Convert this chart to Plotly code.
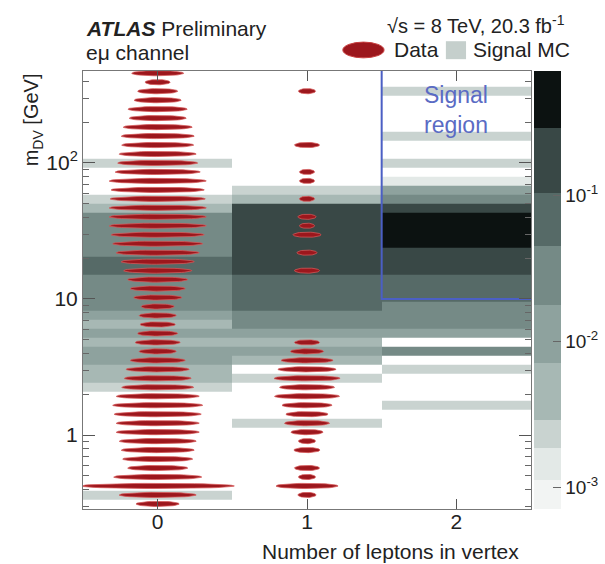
import numpy as np
import plotly.graph_objects as go

# ---------------- data (bins listed from highest m_DV to lowest) ----------------
MDV_MIN, MDV_MAX, NBINS = 0.2888, 492.7, 49
n_leptons = [0, 1, 2]

# Signal MC fraction per m_DV bin (None = empty)
signal_mc_0 = [None]*10 + [0.0023] + [None]*3 + [0.0023, 0.0045] + [0.028]*5 + [0.068]*2 + \
    [0.028]*4 + [0.011, 0.0045, 0.011, 0.0045, 0.011, 0.011, 0.0045, 0.0045, 0.0023] + \
    [None]*11 + [0.0023, None]
signal_mc_1 = [None]*13 + [0.0023, 0.0045, 0.2] + [0.16]*7 + [0.07]*4 + \
    [0.03, 0.025, 0.012, 0.005, 0.011, 0.0048, None, 0.0023] + [None]*4 + [0.0023] + [None]*9
signal_mc_2 = [None, None, 0.0023] + [None]*4 + [0.0023, None, None, 0.0023, None, 0.0014,
    0.011, 0.03, 0.18, 0.45, 0.5, 0.5, 0.4] + [0.17]*3 + [0.065]*3 + [0.03]*3 + \
    [0.012, None, 0.025, None, 0.0023, None, None, None, 0.0023] + [None]*11

# Data: relative number of events per bin (ellipse width)
data_0 = [52, 25, 40, 47, 59, 57, 69, 73, 72, 77, 80, 85, 97, 93, 95, 97, 97, 97, 93, 90,
          83, 73, 68, 60, 55, 48, 33, 37, 35, 40, 45, 37, 55, 63, 67, 72, 83, 90, 87, 83,
          83, 77, 73, 70, 60, 88, 153, 77, 43]
data_1 = [0, 0, 17, 0, 0, 0, 0, 0, 25, 0, 0, 15, 15, 0, 15, 0, 18, 15, 28, 0,
          20, 0, 25, 0, 0, 0, 0, 0, 0, 0, 25, 33, 52, 58, 66, 55, 65, 50, 42, 45,
          32, 17, 26, 0, 25, 17, 62, 18, 0]

# colour levels of the (stepped) palette, in log10(signal fraction)
level_edges = [-3.15, -2.95, -2.73, -2.54, -2.15, -1.75, -1.35, -0.986, -0.54, -0.15]
level_colors = ["#f2f4f3", "#e3e9e7", "#c9d3d0", "#a7b8b4", "#8ea29e", "#758a86",
                "#566a67", "#394846", "#0c1211"]

FONT = "Liberation Sans, Arial, sans-serif"

# ---------------- derived ----------------
edges = np.logspace(np.log10(MDV_MAX), np.log10(MDV_MIN), NBINS + 1)  # descending
log_centres = 0.5 * (np.log10(edges[:-1]) + np.log10(edges[1:]))

def tolog(a):
    return [np.nan if v is None else np.log10(v) for v in a]

zmat = np.array([tolog(signal_mc_0), tolog(signal_mc_1), tolog(signal_mc_2)]).T  # rows = bins
zmat = zmat[::-1]
y_edges = edges[::-1]

zmin, zmax = level_edges[0], level_edges[-1]
cs = []
for i, col in enumerate(level_colors):
    a = (level_edges[i] - zmin) / (zmax - zmin)
    b = (level_edges[i + 1] - zmin) / (zmax - zmin)
    cs.append([a, col])
    cs.append([b, col])
cs[0][0] = 0.0
cs[-1][0] = 1.0

W, H = 605, 564
ML, MR, MT, MB = 83, 74, 71, 55

fig = go.Figure()
fig.add_trace(go.Heatmap(
    x=n_leptons, y=y_edges, z=zmat, zmin=zmin, zmax=zmax, colorscale=cs,
    hoverongaps=False, showscale=True,
    colorbar=dict(xref="container", x=534 / W, xanchor="left", xpad=0,
                  yref="paper", y=0.5, yanchor="middle", len=1.0, lenmode="fraction", ypad=0,
                  thickness=27, outlinewidth=0, tickmode="array", tickvals=[-1, -2, -3],
                  ticktext=["10<sup>-1</sup>", "10<sup>-2</sup>", "10<sup>-3</sup>"],
                  ticks="inside", ticklen=8, tickcolor="#666",
                  tickfont=dict(family=FONT, size=19, color="#222")),
))

# data ellipses
HALF_H = 0.019
t = np.linspace(0, 2 * np.pi, 48)
for xc, counts in ((0, data_0), (1, data_1)):
    xs, ys = [], []
    for lc, n in zip(log_centres, counts):
        if n <= 0:
            continue
        hw = n / 298.0
        xs += list(xc + hw * np.cos(t)) + [None]
        ys += list(10 ** (lc + HALF_H * np.sin(t))) + [None]
    fig.add_trace(go.Scatter(x=xs, y=ys, mode="lines", fill="toself",
                             fillcolor="#9c171d", line=dict(color="rgba(215,90,90,0.75)", width=1),
                             hoverinfo="skip", showlegend=False))

# signal region boundary
y_top = 10 ** 2.676
fig.add_trace(go.Scatter(x=[1.5, 1.5, 2.5], y=[y_top, 10, 10], mode="lines",
                         line=dict(color="#4b5fc4", width=2), hoverinfo="skip",
                         showlegend=False, cliponaxis=False))

minor_y = [k * 10.0**e for e in (-1, 0, 1, 2) for k in range(2, 10)]
minor_y = [v for v in minor_y if 0.286 < v < 474]

fig.update_layout(
    width=W, height=H, margin=dict(l=ML, r=MR, t=MT, b=MB, autoexpand=False),
    paper_bgcolor="white", plot_bgcolor="white",
    font=dict(family=FONT, size=21, color="#222"),
    showlegend=False,
    xaxis=dict(range=[-0.5, 2.5], tickvals=[0, 1, 2], ticktext=["0", "1", "2"],
               ticks="inside", ticklen=10, tickcolor="#555", showline=True, linecolor="#777",
               linewidth=1, mirror="ticks", showgrid=False, zeroline=False,
               tickfont=dict(size=21), ticklabelstandoff=-6),
    yaxis=dict(type="log", range=[-0.544, 2.676], tickvals=[1, 10, 100],
               ticktext=["1", "10", "10<sup>2</sup>"], ticks="inside", ticklen=12,
               tickcolor="#555", showline=True, linecolor="#777", linewidth=1,
               mirror="ticks", showgrid=False, zeroline=False, tickfont=dict(size=21),
               minor=dict(tickmode="array", tickvals=minor_y, ticks="inside", ticklen=6,
                          tickcolor="#666", showgrid=False)),
)

ann = [
    dict(x=0.002, y=1.098, text="<b><i>ATLAS</i></b> Preliminary", xanchor="left"),
    dict(x=0.002, y=1.043, text="eμ channel", xanchor="left"),
    dict(x=0.674, y=1.107, text="√s = 8 TeV, 20.3 fb<sup>-1</sup>", xanchor="left", font_size=20),
    dict(x=0.69, y=1.048, text="Data", xanchor="left"),
    dict(x=0.866, y=1.048, text="Signal MC", xanchor="left"),
    dict(x=-0.112, y=1.0, text="m<sub>DV</sub> [GeV]", xanchor="center", yanchor="top",
         textangle=-90, font_size=20),
    dict(x=0.978, y=-0.096, text="Number of leptons in vertex", xanchor="right", font_size=21),
    dict(x=0.8333, y=0.91, text="Signal<br>region", xanchor="center",
         font=dict(size=23, color="#5a6bc4", family=FONT)),
]
for a in ann:
    a.setdefault("yanchor", "middle")
    a.update(xref="paper", yref="paper", showarrow=False)
    if "font_size" in a:
        a["font"] = dict(size=a.pop("font_size"), family=FONT, color="#222")
    fig.add_annotation(**a)

# legend markers
fig.add_shape(type="circle", xref="paper", yref="paper", x0=0.58, x1=0.672,
              y0=1.03, y1=1.066, fillcolor="#9c171d", line=dict(color="#c84040", width=1))
fig.add_shape(type="rect", xref="paper", yref="paper", x0=0.81, x1=0.855,
              y0=1.027, y1=1.068, fillcolor="#c5cfcc", line=dict(width=0))

fig.write_html("out.html")
